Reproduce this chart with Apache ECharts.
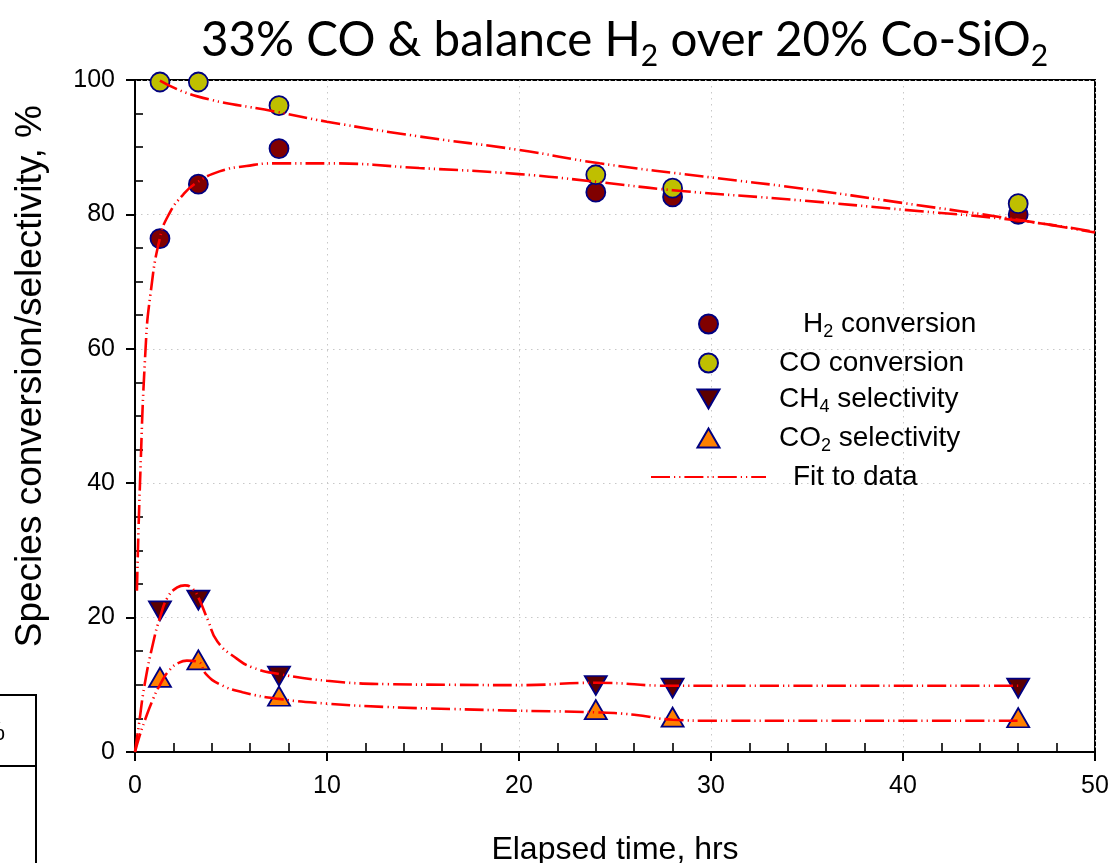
<!DOCTYPE html>
<html>
<head>
<meta charset="utf-8">
<script src="https://cdn.jsdelivr.net/npm/echarts@6/dist/echarts.min.js"></script>
<style>html,body{margin:0;padding:0;background:#fff}#c{width:1113px;height:863px}</style>
</head>
<body>
<div id="c"></div>
<script>
// ---- data ----
const time = [1.3, 3.3, 7.5, 24, 28, 46];
const h2Conv = [76.4, 84.5, 89.8, 83.3, 82.6, 80.0];
const coConv = [99.7, 99.7, 96.2, 85.9, 83.9, 81.6];
const ch4Sel = [21.0, 22.6, 11.3, 9.9, 9.5, 9.5];
const co2Sel = [11.1, 13.7, 8.3, 6.3, 5.2, 5.1];

const fitH2T = [0.1, 0.26, 0.55, 0.8, 1.3, 1.8, 2.5, 3.2, 4.4, 5.8, 7.3, 10, 14.8, 20, 24.2, 28, 34.6, 40, 46, 50];
const fitH2V = [24, 40, 60, 68, 76.5, 80.2, 82.9, 84.7, 86.4, 87.2, 87.6, 87.6, 86.9, 86.0, 84.8, 83.6, 82.1, 80.7, 79.1, 77.4];
const fitCOT = [1.3, 3.2, 7.3, 10, 14.8, 20, 24.2, 30, 34.6, 40, 46, 50];
const fitCOV = [99.9, 97.6, 95.3, 93.8, 91.6, 89.6, 87.6, 85.5, 83.9, 81.7, 79.2, 77.3];
const fitCH4T = [0, 0.2, 0.5, 0.95, 1.3, 1.7, 2.2, 2.6, 3.0, 3.3, 3.8, 4.3, 5.3, 6.1, 7.5, 10, 13.1, 16.5, 20, 24, 28, 35, 46];
const fitCH4V = [0, 4, 10, 16.3, 20, 23, 24.5, 24.8, 24.3, 23.0, 19.6, 16.4, 13.9, 12.6, 11.6, 10.6, 10.1, 10.0, 9.95, 10.3, 9.85, 9.85, 9.85];
const fitCO2T = [0, 0.25, 0.5, 0.9, 1.3, 1.8, 2.3, 2.7, 3.3, 3.7, 4.4, 5.6, 7.5, 10, 13.1, 16.5, 20, 24, 26, 28, 30, 46];
const fitCO2V = [0, 2.5, 4.6, 7.6, 10, 12.2, 13.3, 13.6, 13.4, 11.6, 10.1, 8.9, 7.9, 7.2, 6.7, 6.4, 6.15, 5.9, 5.55, 4.8, 4.65, 4.65];

const xTicks = [0, 10, 20, 30, 40, 50];
const yTicks = [0, 20, 40, 60, 80, 100];

const names = ['H2 conversion', 'CO conversion', 'CH4 selectivity', 'CO2 selectivity', 'Fit to data'];
const legendLabels = {
  'H2 conversion': '{g2| }{t|H}{s|2}{t| conversion}',
  'CO conversion': '{g| }{t|CO conversion}',
  'CH4 selectivity': '{g| }{t|CH}{s|4}{t| selectivity}',
  'CO2 selectivity': '{g| }{t|CO}{s|2}{t| selectivity}',
  'Fit to data': '{g3| }{t|Fit to data}'
};

const zip = (a, b) => a.map((v, i) => [v, b[i]]);
const FONT = 'Liberation Sans, Arial, sans-serif';
const navy = '#000080';
const fitStyle = { color: '#ff0000', width: 2.6, type: [19, 4, 1.2, 4, 1.2, 4] };

const chart = echarts.init(document.getElementById('c'), null, { renderer: 'canvas' });

function fitSeries(t, v) {
  return {
    name: 'Fit to data', type: 'line', data: zip(t, v),
    symbol: 'none', showSymbol: false, smooth: 0.5,
    lineStyle: fitStyle, itemStyle: { color: '#ff0000' }, z: 5, silent: true
  };
}
function pointSeries(name, vals, symbol, size, fill) {
  return {
    name, type: 'scatter', data: zip(time, vals), symbol, symbolSize: size,
    itemStyle: { color: fill, borderColor: navy, borderWidth: 1.8, opacity: 1 }, z: 3
  };
}

const gridBox = { left: 135, right: 18, top: 80, bottom: 111 };
const minorOnly = {
  axisLine: { show: false }, axisLabel: { show: false }, splitLine: { show: false },
  axisTick: { show: true, inside: true, length: 0.01, lineStyle: { width: 0.01, color: 'rgba(0,0,0,0)' } }
};

const option = {
  animation: false,
  backgroundColor: '#ffffff',
  title: {
    text: '{t|33% CO & balance H}{s|2}{t| over 20% Co-SiO}{s|2}',
    left: 196, top: 5,
    textStyle: {
      fontWeight: 'normal',
      rich: {
        t: { fontFamily: 'Lato', fontWeight: 'normal', fontSize: 47.5, color: '#000', verticalAlign: 'middle' },
        s: { fontFamily: 'Lato', fontWeight: 'normal', fontSize: 30, color: '#000', padding: [31, 0, 0, 0], verticalAlign: 'bottom' }
      }
    }
  },
  grid: [
    Object.assign({ show: true, borderColor: '#000', borderWidth: 2, backgroundColor: 'transparent', outerBoundsMode: 'none' }, gridBox),
    Object.assign({ show: false, outerBoundsMode: 'none' }, gridBox)
  ],
  legend: {
    data: names.map(n => {
      const o = { name: n };
      if (n === 'CH4 selectivity') o.icon = 'path://M0,0 L22,0 L11,19 Z';
      if (n === 'CO2 selectivity') o.icon = 'path://M11,0 L22,19 L0,19 Z';
      if (n === 'H2 conversion' || n === 'CO conversion') o.icon = 'circle';
      if (n === 'Fit to data') o.itemStyle = { opacity: 0 };
      return o;
    }),
    orient: 'vertical', left: 645, top: 305,
    itemWidth: 115, itemHeight: 19, itemGap: 8,
    symbolKeepAspect: true,
    selectedMode: false,
    formatter: n => legendLabels[n],
    textStyle: {
      color: '#000',
      rich: {
        t: { fontFamily: FONT, fontSize: 28, color: '#000', verticalAlign: 'middle' },
        s: { fontFamily: FONT, fontSize: 18, color: '#000', padding: [16, 0, 0, 0], verticalAlign: 'bottom' },
        g: { width: 8 },
        g2: { width: 32 },
        g3: { width: 22 }
      }
    }
  },
  xAxis: [
    {
      type: 'value', min: 0, max: 50, interval: 10, gridIndex: 0, position: 'bottom',
      name: 'Elapsed time, hrs', nameLocation: 'middle', nameGap: 82,
      nameTextStyle: { fontFamily: FONT, fontSize: 32, color: '#000' },
      axisLine: { show: true, onZero: false, lineStyle: { color: '#000', width: 2 } },
      axisTick: { show: true, inside: false, length: 9, lineStyle: { color: '#000', width: 2 } },
      minorTick: { show: false },
      axisLabel: { fontFamily: FONT, fontSize: 25, color: '#000', margin: 22,
        formatter: v => xTicks.includes(v) ? String(v) : '' },
      splitLine: { show: true, lineStyle: { color: '#c8c8c8', width: 1, type: [1.5, 4.5] } }
    },
    Object.assign({
      type: 'value', min: 0, max: 50, interval: 10, gridIndex: 1, position: 'bottom',
      minorTick: { show: true, splitNumber: 5, length: 9, lineStyle: { color: '#000', width: 1.6 } }
    }, minorOnly)
  ],
  yAxis: [
    {
      type: 'value', min: 0, max: 100, interval: 20, gridIndex: 0, position: 'left',
      axisLine: { show: true, onZero: false, lineStyle: { color: '#000', width: 2 } },
      axisTick: { show: true, inside: false, length: 9, lineStyle: { color: '#000', width: 2 } },
      axisLabel: { fontFamily: FONT, fontSize: 25, color: '#000', margin: 20,
        formatter: v => yTicks.includes(v) ? String(v) : '' },
      splitLine: { show: true, lineStyle: { color: '#c8c8c8', width: 1, type: [1.5, 4.5] } }
    },
    Object.assign({
      type: 'value', min: 0, max: 100, interval: 20, gridIndex: 1, position: 'left',
      minorTick: { show: true, splitNumber: 4, length: 8, lineStyle: { color: '#000', width: 1.6 } }
    }, minorOnly)
  ],
  graphic: [
    { type: 'text', left: 12, top: 105, rotation: Math.PI / 2,
      style: { text: 'Species conversion/selectivity, %', fontFamily: FONT, fontSize: 37, fill: '#000' } },
    { type: 'line', shape: { x1: 0, y1: 695, x2: 37, y2: 695 }, style: { stroke: '#000', lineWidth: 2 } },
    { type: 'line', shape: { x1: 0, y1: 766, x2: 37, y2: 766 }, style: { stroke: '#000', lineWidth: 2 } },
    { type: 'line', shape: { x1: 36, y1: 694, x2: 36, y2: 863 }, style: { stroke: '#000', lineWidth: 2 } },
    { type: 'text', x: -18, y: 720, style: { text: '%', fontFamily: FONT, fontSize: 26, fill: '#000' } }
  ],
  series: [
    pointSeries('H2 conversion', h2Conv, 'circle', 19, '#800000'),
    pointSeries('CO conversion', coConv, 'circle', 19, '#bfbf00'),
    pointSeries('CH4 selectivity', ch4Sel, 'path://M0,0 L22,0 L11,19 Z', [22, 19], '#5c0000'),
    pointSeries('CO2 selectivity', co2Sel, 'path://M11,0 L22,19 L0,19 Z', [22, 19], '#ff8000'),
    fitSeries(fitH2T, fitH2V),
    fitSeries(fitCOT, fitCOV),
    fitSeries(fitCH4T, fitCH4V),
    fitSeries(fitCO2T, fitCO2V)
  ]
};
chart.setOption(option);
</script>
</body>
</html>
